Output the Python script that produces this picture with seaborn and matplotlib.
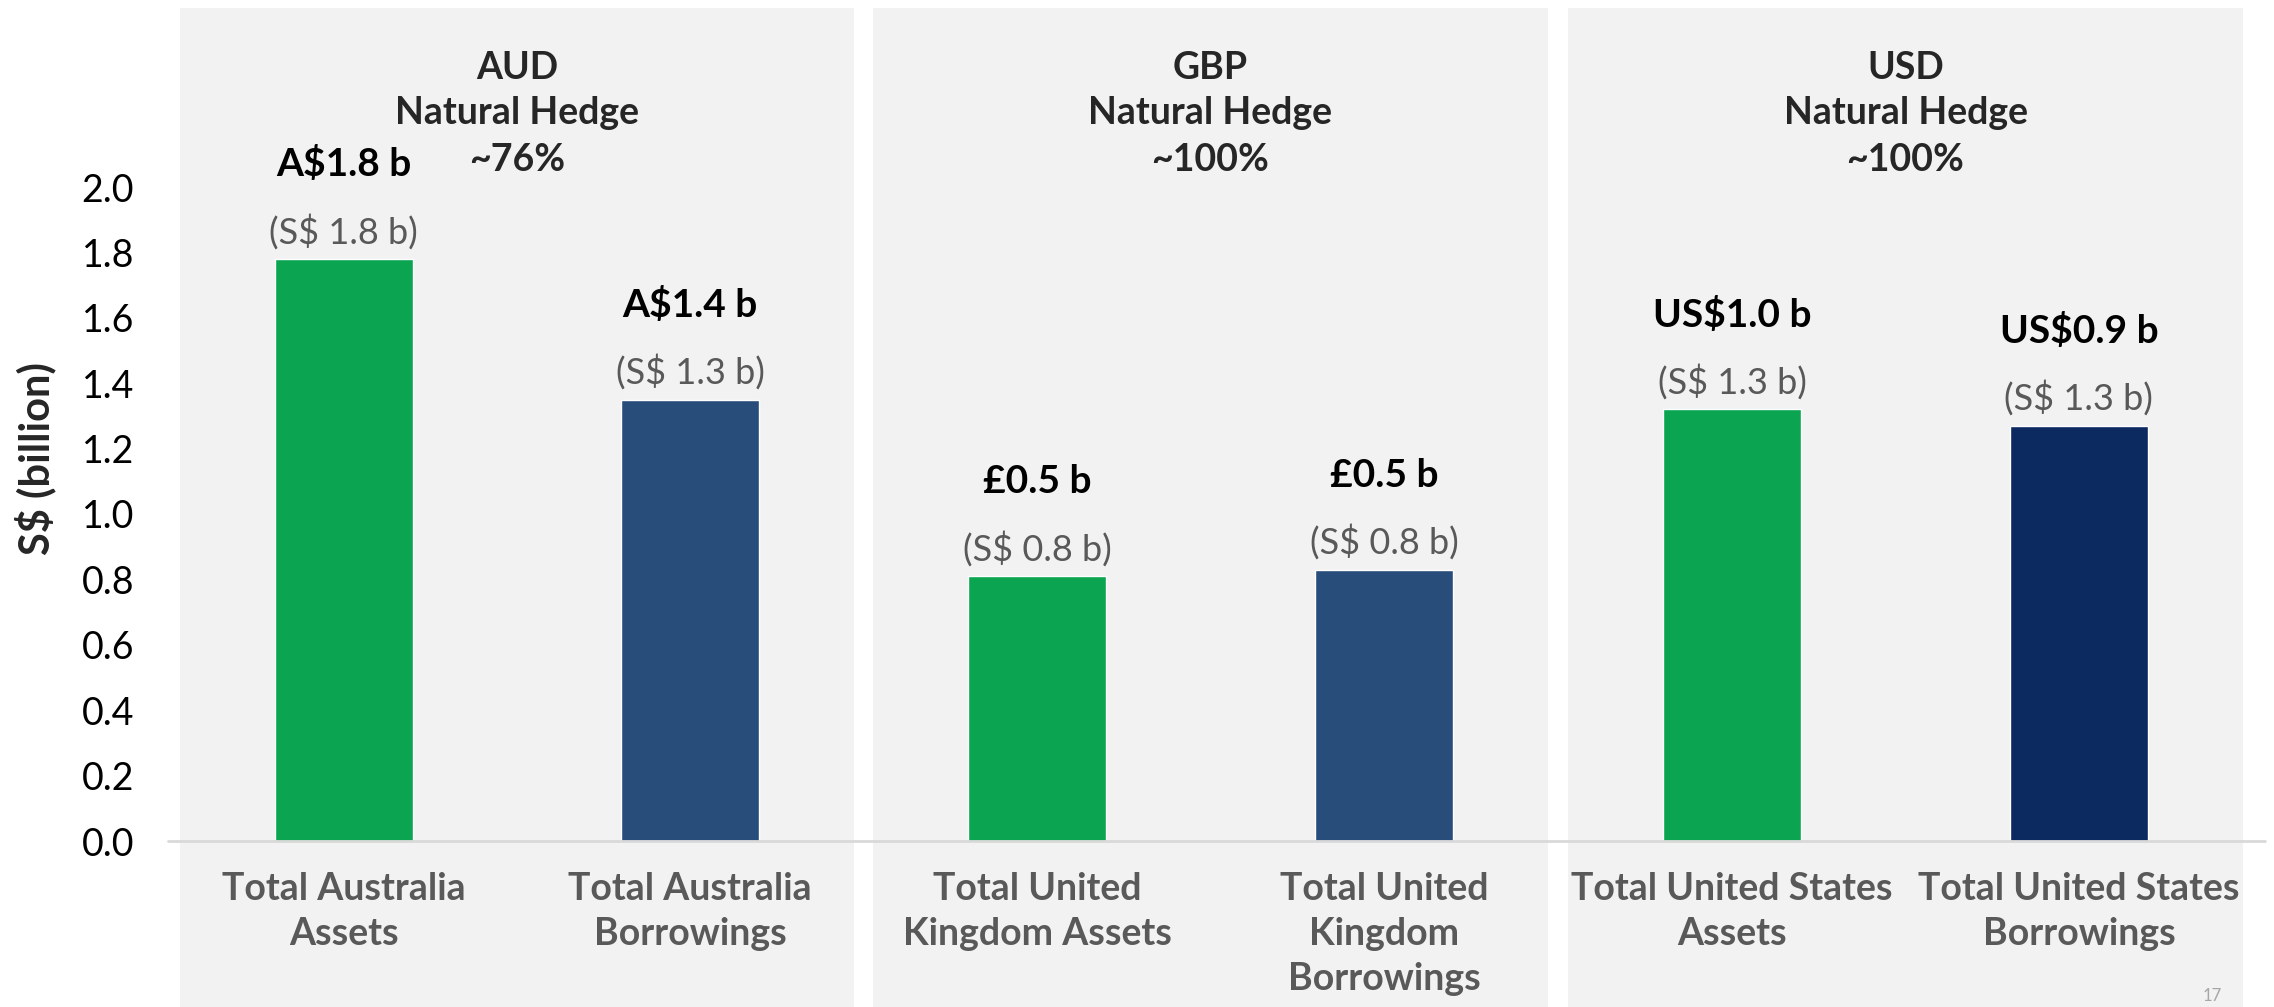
import matplotlib
matplotlib.use('Agg')
import matplotlib.pyplot as plt
import seaborn as sns
import pandas as pd
from matplotlib.patches import Rectangle
from matplotlib.lines import Line2D

# chart data
currencies = ['AUD', 'GBP', 'USD']
hedge_ratios = ['~76%', '~100%', '~100%']
categories = [
    ['Total Australia\nAssets', 'Total Australia\nBorrowings'],
    ['Total United\nKingdom Assets', 'Total United\nKingdom\nBorrowings'],
    ['Total United States\nAssets', 'Total United States\nBorrowings'],
]
sgd_values = [[1.78, 1.35], [0.81, 0.83], [1.32, 1.27]]
local_labels = [['A$1.8 b', 'A$1.4 b'], ['£0.5 b', '£0.5 b'], ['US$1.0 b', 'US$0.9 b']]
sgd_labels = [['(S$ 1.8 b)', '(S$ 1.3 b)'], ['(S$ 0.8 b)', '(S$ 0.8 b)'], ['(S$ 1.3 b)', '(S$ 1.3 b)']]
bar_colors = [['#0BA551', '#284D7B'], ['#0BA551', '#284D7B'], ['#0BA551', '#0C2960']]
y_ticks = [0.0, 0.2, 0.4, 0.6, 0.8, 1.0, 1.2, 1.4, 1.6, 1.8, 2.0]

sns.set_style('white')
plt.rcParams['font.family'] = ['Lato', 'DejaVu Sans']
plt.rcParams['text.parse_math'] = False

W, H = 2274, 1007
fig = plt.figure(figsize=(W / 100, H / 100), dpi=100)


def fx(px):
    return px / W


def fy(py):
    return 1 - py / H


panels = [(180, 854), (873, 1548), (1568, 2243)]
zero_y, top_y = 841, 187

for i, (x0, x1) in enumerate(panels):
    fig.add_artist(Rectangle((fx(x0), 0), fx(x1 - x0), fy(8), transform=fig.transFigure,
                             facecolor='#F2F2F2', edgecolor='none', zorder=-1))
    ax = fig.add_axes([fx(x0), fy(zero_y), fx(x1 - x0), (zero_y - top_y) / H])
    ax.set_facecolor('none')
    df = pd.DataFrame({'cat': categories[i], 'val': sgd_values[i]})
    sns.barplot(data=df, x='cat', y='val', hue='cat', palette=bar_colors[i],
                width=0.4, saturation=1, legend=False, ax=ax)
    ax.set_xlim(-0.473, 1.473)
    ax.set_ylim(0, 2.0)
    for s in ax.spines.values():
        s.set_visible(False)
    ax.set_xlabel('')
    ax.set_ylabel('')
    ax.set_xticks([0, 1])
    ax.set_xticklabels(categories[i], fontweight='bold', fontsize=27, color='#595959',
                       linespacing=1.4, va='top')
    ax.tick_params(axis='x', length=0, pad=22)
    if i == 0:
        ax.set_yticks(y_ticks)
        ax.set_yticklabels([f'{t:.1f}' for t in y_ticks], fontsize=27, color='black')
        ax.tick_params(axis='y', length=0, pad=33)
    else:
        ax.set_yticks([])

    for j, v in enumerate(sgd_values[i]):
        ax.annotate(sgd_labels[i][j], xy=(j, v), xytext=(0, 20), textcoords='offset points',
                    ha='center', va='center', fontsize=26, color='#595959')
        ax.annotate(local_labels[i][j], xy=(j, v), xytext=(0, 68), textcoords='offset points',
                    ha='center', va='center', fontsize=28, fontweight='bold', color='black')

    # panel header, one text per line
    cx = fx((x0 + x1) / 2)
    for line, py in zip([currencies[i], 'Natural Hedge', hedge_ratios[i]], [68, 113, 160]):
        fig.text(cx, fy(py), line, ha='center', va='center', fontsize=27, fontweight='bold')

fig.add_artist(Line2D([fx(168), fx(2265)], [fy(zero_y), fy(zero_y)], transform=fig.transFigure,
                      color='#D9D9D9', lw=2))
fig.text(fx(35), fy(459), 'S$ (billion)', rotation=90, ha='center', va='center',
         fontsize=30, fontweight='bold')
fig.text(fx(2212), fy(1004), '17', ha='center', va='bottom', fontsize=12, color='#A6A6A6')

fig.savefig('out.png', dpi=100)
